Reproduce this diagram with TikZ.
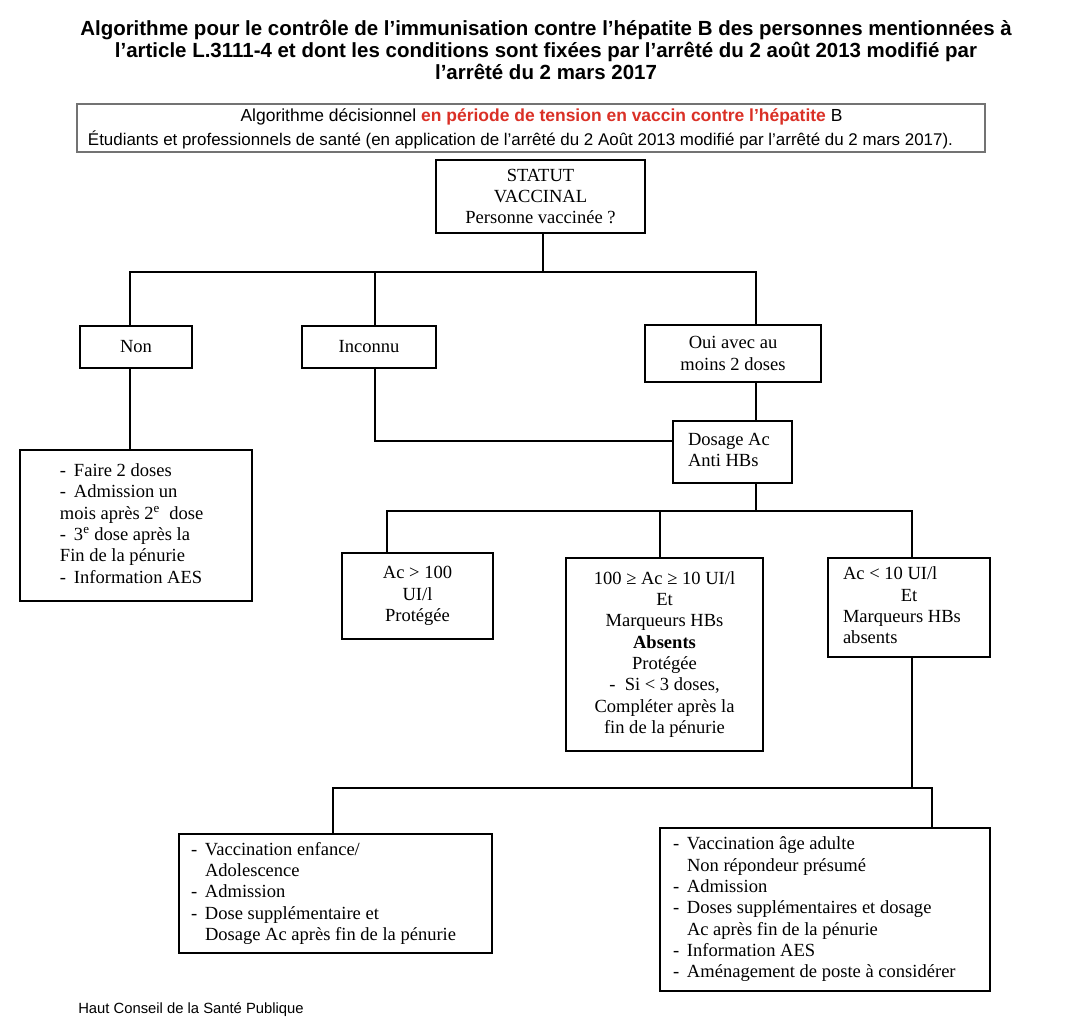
\documentclass[tikz,border=0pt]{standalone}
\usepackage{fontspec}
\setmainfont{Liberation Serif}
\newfontfamily\arial{Liberation Sans}
\definecolor{hred}{RGB}{218,48,38}
\tikzset{
  box/.style={draw, line width=0.9pt, inner sep=0pt, font=\fontsize{13.9pt}{16pt}\selectfont},
  conn/.style={draw, line width=0.9pt},
}
\newcommand{\dd}{\makebox[10.5pt][l]{-}}
\begin{document}
\begin{tikzpicture}[x=0.75pt,y=-0.75pt]
\useasboundingbox[fill=white] (0,0) rectangle (1072,1024);

% title
\node[font=\arial\bfseries\fontsize{15.35pt}{16.5pt}\selectfont, align=center, inner sep=0pt] (title) at (546,50)
 {Algorithme pour le contrôle de l’immunisation contre l’hépatite B des personnes mentionnées à\\
  l’article L.3111-4 et dont les conditions sont fixées par l’arrêté du 2 août 2013 modifié par\\
  l’arrêté du 2 mars 2017};

% header
\node[draw=black!55, line width=1.5pt, minimum width=681pt, minimum height=36pt] (hdr) at (531,128) {};
\node[font=\arial\fontsize{13.1pt}{15pt}\selectfont, inner sep=0pt] (h1) at (541.5,117)
 {Algorithme décisionnel \textcolor{hred}{\bfseries en période de tension en vaccin contre l’hépatite} B};
\node[font=\arial\fontsize{12.7pt}{15pt}\selectfont, inner sep=0pt] (h2) at (520.5,140)
 {Étudiants et professionnels de santé (en application de l’arrêté du 2 Août 2013 modifié par l’arrêté du 2 mars 2017).};

% footer
\node[font=\arial\fontsize{11.1pt}{13pt}\selectfont, anchor=west, inner sep=0pt] (foot) at (78,1010)
 {Haut Conseil de la Santé Publique};

% boxes
\node[box, minimum width=156.75pt, minimum height=54.75pt, align=center] (statut) at (540.5,196.5)
 {STATUT\\VACCINAL\\Personne vaccinée ?};
\node[box, minimum width=84pt, minimum height=31.5pt] (non) at (136,347) {Non};
\node[box, minimum width=100.5pt, minimum height=31.5pt] (inc) at (369,347) {Inconnu};
\node[box, minimum width=132pt, minimum height=42.75pt, align=center] (oui) at (733,353.5)
 {Oui avec au\\moins 2 doses};
\node[box, minimum width=174pt, minimum height=113.25pt] (faire) at (136,525.5)
 {\makebox[114pt][l]{\begin{tabular}{@{}l@{}}
  \dd Faire 2 doses\\
  \dd Admission un\\
  mois après 2\textsuperscript{e}\ \ dose\\
  \dd 3\textsuperscript{e} dose après la\\
  Fin de la pénurie\\
  \dd Information AES
  \end{tabular}}};
\node[box, minimum width=89.25pt, minimum height=46.5pt] (dos) at (732.5,452)
 {\makebox[66.75pt][l]{\begin{tabular}{@{}l@{}}Dosage Ac\\Anti HBs\end{tabular}}};
\node[box, minimum width=113.25pt, minimum height=64.5pt, align=center] (ac100) at (417.5,596)
 {Ac > 100\\UI/l\\Protégée};
\node[box, minimum width=147.75pt, minimum height=144.75pt, align=center] (mid) at (664.5,654.5)
 {100 ≥ Ac ≥ 10 UI/l\\Et\\Marqueurs HBs\\\textbf{Absents}\\Protégée\\-\ \ Si < 3 doses,\\Compléter après la\\fin de la pénurie};
\node[box, minimum width=121.5pt, minimum height=74.25pt] (ac10) at (909,607.5)
 {\makebox[99pt][l]{\begin{tabular}{@{}l@{}}
  Ac < 10 UI/l\\
  \makebox[99pt][c]{Et}\\
  Marqueurs HBs\\
  absents
  \end{tabular}}};
\node[box, minimum width=234.75pt, minimum height=89.25pt] (bl) at (335.5,893.5)
 {\makebox[216.75pt][l]{\begin{tabular}{@{}p{10.5pt}@{}l@{}}
  - & Vaccination enfance/\\
    & Adolescence\\
  - & Admission\\
  - & Dose supplémentaire et\\
    & Dosage Ac après fin de la pénurie
  \end{tabular}}};
\node[box, minimum width=247.5pt, minimum height=122.25pt] (br) at (825,909.5)
 {\makebox[228pt][l]{\begin{tabular}{@{}p{10.5pt}@{}l@{}}
  - & Vaccination âge adulte\\
    & Non répondeur présumé\\
  - & Admission\\
  - & Doses supplémentaires et dosage\\
    & Ac après fin de la pénurie\\
  - & Information AES\\
  - & Aménagement de poste à considérer
  \end{tabular}}};

% connectors
\coordinate (j1) at (543,272);
\coordinate (bL) at (130,272);
\coordinate (bI) at (375,272);
\coordinate (bR) at (756,272);
\draw[conn] (statut.south -| j1) -- (j1);
\draw[conn] (non.north -| bL) -- (bL) -- (bR) -- (oui.north -| bR);
\draw[conn] (bI) -- (inc.north -| bI);
\draw[conn] (non.south -| bL) -- (faire.north -| bL);
\coordinate (ki) at (375,441);
\draw[conn] (inc.south -| bI) -- (ki) -- (dos.west |- ki);
\draw[conn] (oui.south -| bR) -- (dos.north -| bR);
\coordinate (d1) at (756,511);
\coordinate (dL) at (387,511);
\coordinate (dM) at (660,511);
\coordinate (dR) at (912,511);
\draw[conn] (dos.south -| d1) -- (d1);
\draw[conn] (ac100.north -| dL) -- (dL) -- (dR) -- (ac10.north -| dR);
\draw[conn] (dM) -- (mid.north -| dM);
\coordinate (e1) at (912,788);
\coordinate (eL) at (333,788);
\coordinate (eR) at (932,788);
\draw[conn] (ac10.south -| e1) -- (e1);
\draw[conn] (bl.north -| eL) -- (eL) -- (eR) -- (br.north -| eR);
\end{tikzpicture}
\end{document}
